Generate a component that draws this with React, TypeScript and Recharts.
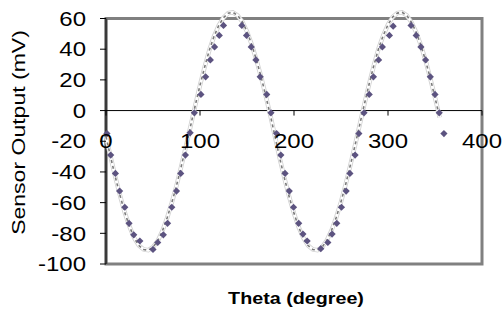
import React from 'react';
import { ComposedChart, Line, XAxis, YAxis, ReferenceLine, ReferenceArea } from 'recharts';

// ---- data ----
const thetaMeasured = [1, 5, 10, 14.5, 20, 24.5, 29.5, 36, 50, 55, 61, 65.5, 70, 75, 79.5, 84.5, 89.5, 94, 101, 106, 111, 115.5, 120.5, 125, 130, 135, 140, 144.5, 149.5, 154.5, 159.5, 164, 171, 175.5, 181.5, 186, 190.5, 195, 199.5, 205, 209.5, 214, 228.5, 236, 240.5, 245.5, 250.5, 255.5, 259.5, 265, 269, 274.5, 280, 284.5, 290, 294, 301.5, 305.5, 310.5, 315, 320, 324.5, 330, 335, 340, 345, 350, 354.5, 359.5];
const outputMeasured = [-15, -29, -41, -52.5, -63, -73.5, -81, -85, -90.5, -86, -81, -73.5, -63, -52.5, -41, -29, -14.5, -1.5, 10.5, 22, 33, 41.5, 49, 55.5, 61, 62.5, 61, 55.5, 49, 41.5, 33, 22, 10.5, -1.5, -15, -29, -41, -52.5, -63, -73.5, -80.5, -85, -90, -86, -80.5, -73.5, -63, -52.5, -41, -29, -15, -1.5, 10.5, 22, 33, 41.5, 49, 55, 61, 62.5, 61, 55.5, 49, 41.5, 33, 22, 10.5, -1.5, -15];

const thetaFit = [0, 5, 10, 15, 20, 25, 30, 35, 40, 45, 50, 55, 60, 65, 70, 75, 80, 85, 90, 95, 100, 105, 110, 115, 120, 125, 130, 135, 140, 145, 150, 155, 160, 165, 170, 175, 180, 185, 190, 195, 200, 205, 210, 215, 220, 225, 230, 235, 240, 245, 250, 255, 260, 265, 270, 275, 280, 285, 290, 295, 300, 305, 310, 315, 320, 325, 330, 335, 340, 345, 350, 355];
const outputFit = [-17, -30.5, -43.5, -55.5, -66.5, -75.5, -83, -88, -90.5, -91, -89, -85, -78.5, -70, -60, -49, -36.5, -23.5, -10, 3.5, 16.5, 28.5, 39.5, 48.5, 55.5, 60.5, 63.5, 64, 62, 58, 51.5, 43, 33, 22, 9.5, -3.5, -17.5, -31.5, -44.5, -56.5, -67, -76, -83, -88, -90.5, -91, -89, -84.5, -78, -69.5, -59.5, -48, -35.5, -22.5, -9, 4.5, 17.5, 29.5, 40.5, 49, 56, 61, 63.5, 64, 62, 57.5, 51, 42.5, 32.5, 21, 8.5, -4.5];

const xTicks = [0, 100, 200, 300, 400];
const yTicks = [-100, -80, -60, -40, -20, 0, 20, 40, 60];

const measured = thetaMeasured.map((t, i) => ({ theta: t, mv: outputMeasured[i] }));
const fit = thetaFit.map((t, i) => ({ theta: t, mv: outputFit[i] }));

// ---- layout ----
const W = 502;
const H = 316;
const PLOT_LEFT = 106;
const PLOT_RIGHT = 482;
const PLOT_BOTTOM = 264;
const FRAME_TOP = 18.5;
const Y_MIN = -100;
const Y_FRAME_MAX = 60;
const Y_DOMAIN_MAX = 64;
const K = (PLOT_BOTTOM - FRAME_TOP) / (Y_FRAME_MAX - Y_MIN);
const PLOT_TOP = FRAME_TOP - (Y_DOMAIN_MAX - Y_FRAME_MAX) * K;
const Y_ZERO = PLOT_BOTTOM - (0 - Y_MIN) * K;
const XAXIS_H = 30;

const FONT = "'Liberation Sans', Arial, sans-serif";
const MARKER = '#5c5380';

const XTick = (props: any) => {
  const { x, payload } = props;
  return (
    <g>
      <line x1={x} x2={x} y1={Y_ZERO} y2={Y_ZERO + 5} stroke="#000" strokeWidth={1} />
      <text
        transform={`translate(${x},147.5) scale(1.2,1)`}
        textAnchor="middle"
        fontSize={20}
        fontFamily={FONT}
        fill="#000"
      >
        {payload.value}
      </text>
    </g>
  );
};

const YTick = (props: any) => {
  const { x, y, payload } = props;
  return (
    <text
      transform={`translate(${x},${y + 7.2}) scale(1.2,1)`}
      textAnchor="end"
      fontSize={20}
      fontFamily={FONT}
      fill="#000"
    >
      {payload.value}
    </text>
  );
};

const YTitle = () => (
  <text
    transform="translate(25,132.5) rotate(-90) scale(1.28,1)"
    textAnchor="middle"
    fontSize={18}
    fontFamily={FONT}
    fill="#000"
  >
    Sensor Output (mV)
  </text>
);

const XTitle = () => (
  <text
    transform="translate(296,304) scale(1.16,1)"
    textAnchor="middle"
    fontSize={17}
    fontWeight="bold"
    fontFamily={FONT}
    fill="#000"
  >
    Theta (degree)
  </text>
);

const Diamond = (props: any) => {
  const { cx, cy, payload, index } = props;
  if (cx == null || cy == null || payload.mv > Y_FRAME_MAX) return <g key={`d${index}`} />;
  const r = 3.6;
  return (
    <polygon
      key={`d${index}`}
      points={`${cx},${cy - r} ${cx + r},${cy} ${cx},${cy + r} ${cx - r},${cy}`}
      fill={MARKER}
    />
  );
};

export default function App() {
  return (
    <div style={{ position: 'absolute', left: 0, top: 0, width: W, height: H, background: '#fff' }}>
      <ComposedChart
        width={W}
        height={H}
        margin={{ top: PLOT_TOP, right: W - PLOT_RIGHT, bottom: H - PLOT_BOTTOM - XAXIS_H, left: 0 }}
      >
        <XAxis
          type="number"
          dataKey="theta"
          domain={[0, 400]}
          ticks={xTicks}
          axisLine={false}
          tickLine={false}
          tick={<XTick />}
          height={XAXIS_H}
          interval={0}
          label={<XTitle />}
        />
        <YAxis
          type="number"
          dataKey="mv"
          domain={[Y_MIN, Y_DOMAIN_MAX]}
          ticks={yTicks}
          width={PLOT_LEFT}
          axisLine={false}
          tickLine={{ stroke: '#000', strokeWidth: 1 }}
          tickSize={6}
          tickMargin={14}
          tick={<YTick />}
          interval={0}
          label={<YTitle />}
        />
        <ReferenceArea
          x1={0}
          x2={400}
          y1={Y_MIN}
          y2={Y_FRAME_MAX}
          fill="none"
          stroke="#808080"
          strokeWidth={3}
        />
        <ReferenceLine
          segment={[{ x: 0, y: Y_MIN }, { x: 0, y: Y_FRAME_MAX }]}
          stroke="#3a3a3a"
          strokeWidth={2.5}
        />
        <ReferenceLine y={0} stroke="#000" strokeWidth={1} />
        <Line
          data={fit}
          dataKey="mv"
          stroke="#d2d2d2"
          strokeWidth={4.5}
          dot={false}
          activeDot={false}
          isAnimationActive={false}
        />
        <Line
          data={fit}
          dataKey="mv"
          stroke="#ffffff"
          strokeWidth={2.8}
          dot={false}
          activeDot={false}
          isAnimationActive={false}
        />
        <Line
          data={fit}
          dataKey="mv"
          stroke="#7a7a7a"
          strokeWidth={1.6}
          strokeDasharray="3 3"
          dot={false}
          activeDot={false}
          isAnimationActive={false}
        />
        <Line
          data={measured}
          dataKey="mv"
          stroke="none"
          dot={Diamond}
          activeDot={false}
          isAnimationActive={false}
        />
      </ComposedChart>
    </div>
  );
}
